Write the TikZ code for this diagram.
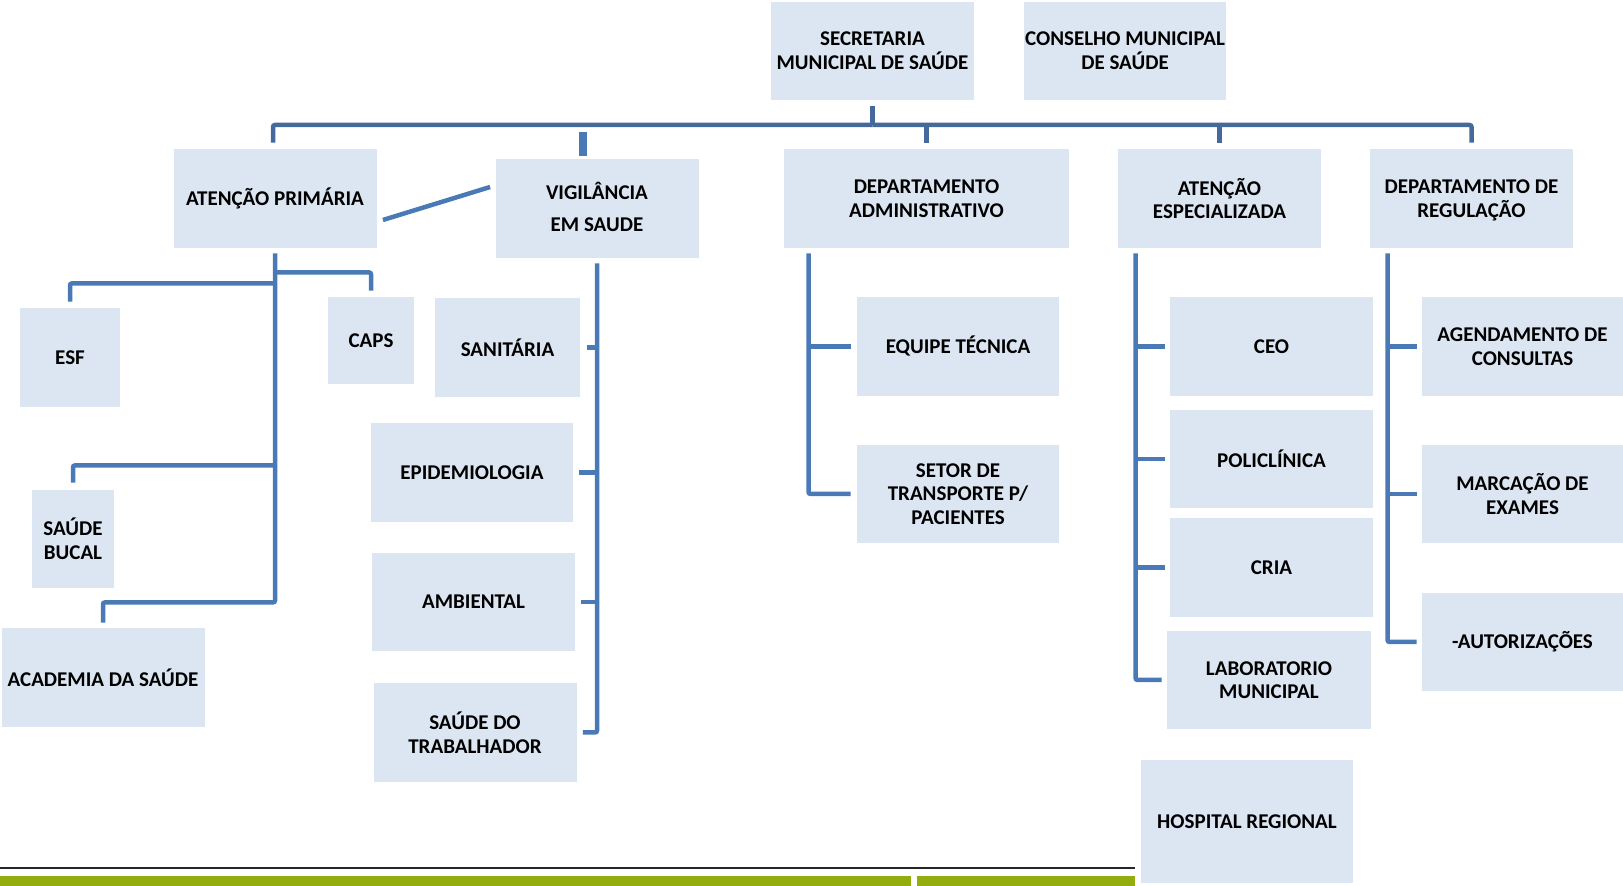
\documentclass[tikz,border=0pt]{standalone}
\usepackage{fontspec}
\setmainfont{Carlito}
\usetikzlibrary{calc}
\definecolor{boxfill}{HTML}{DCE6F2}
\definecolor{linec}{HTML}{4A7AB5}
\definecolor{barc}{HTML}{46699C}
\definecolor{greenbar}{HTML}{93AD0F}
\tikzset{
  box/.style 2 args={draw=none, fill=boxfill, inner sep=0pt, minimum width=#1*0.5pt, minimum height=#2*0.5pt, align=center, font=\bfseries\fontsize{10.5}{11.8}\selectfont},
  conn/.style={draw=linec, line width=2.25pt, rounded corners=1pt},
  barconn/.style={draw=barc, line width=2.25pt, rounded corners=1pt}
}
\begin{document}
\begin{tikzpicture}[x=0.5pt,y=-0.5pt]
\useasboundingbox (0,0) rectangle (1623,886);
% top level
\node[box={203}{98}] (sec) at (872.5,51) {SECRETARIA\\MUNICIPAL DE SAÚDE};
\node[box={202}{98}] (cons) at (1125,51) {CONSELHO MUNICIPAL\\DE SAÚDE};
% second level
\node[box={203}{99}] (ap) at (275,198.5) {ATENÇÃO PRIMÁRIA};
\node[box={203}{99}] (vig) at (597,208.5) {VIGIL\smash{Â}NCIA\\[4pt]EM SAUDE};
\node[box={285}{99}] (da) at (926.5,198.5) {DEPARTAMENTO\\ADMINISTRATIVO};
\node[box={203}{99}] (ae) at (1219.5,198.5) {ATENÇÃO\\ESPECIALIZADA};
\node[box={203}{99}] (dr) at (1471.5,198.5) {DEPARTAMENTO DE\\REGULA\smash{Ç}ÃO};
% atencao primaria children
\node[box={100}{99}] (esf) at (70,357.5) {ESF};
\node[box={86}{87}] (caps) at (371,340.5) {CAPS};
\node[box={82}{98}] (sb) at (73,539) {SAÚDE\\BUCAL};
\node[box={203}{99}] (acad) at (103,677.5) {ACADEMIA DA SAÚDE};
% vigilancia children
\node[box={145}{99}] (san) at (507.5,347.5) {SANITÁRIA};
\node[box={202}{99}] (epi) at (472,472.5) {EPIDEMIOLOGIA};
\node[box={203}{98}] (amb) at (473.5,602) {AMBIENTAL};
\node[box={203}{99}] (trab) at (475,732.5) {SAÚDE DO\\TRABALHADOR};
% departamento administrativo children
\node[box={202}{99}] (eq) at (958,346.5) {EQUIPE TÉCNICA};
\node[box={202}{98}] (setor) at (958,494) {SETOR DE\\TRANSPORTE P/\\PACIENTES};
% atencao especializada children
\node[box={203}{99}] (ceo) at (1271.5,346.5) {CEO};
\node[box={203}{98}] (poli) at (1271.5,459) {POLICLÍNICA};
\node[box={203}{99}] (cria) at (1271.5,567.5) {CRIA};
\node[box={204}{98}] (lab) at (1269,680) {LABORATORIO\\MUNICIPAL};
\node[box={212}{123}] (hosp) at (1247,821.5) {HOSPITAL REGIONAL};
% regulacao children
\node[box={201}{99}] (ag) at (1522.5,346.5) {AGENDAMENTO DE\\CONSULTAS};
\node[box={201}{98}] (marc) at (1522.5,494) {MARCAÇÃO DE\\EXAMES};
\node[box={201}{98}] (aut) at (1522.5,642) {-AUTORIZAÇÕES};
% main bar
\coordinate (bar) at (872.5,125);
\draw[barconn] ($(sec.south)+(0,6)$) -- (bar);
\draw[barconn] ($(ap.north)+(-2,-6)$) |- (bar);
\draw[barconn] ($(dr.north)+(0,-6)$) |- (bar);
\draw[barconn] ($(da.north)+(0,-6)$) -- (da.north |- bar);
\draw[barconn] ($(ae.north)+(0,-6)$) -- (ae.north |- bar);
\draw[draw=linec, line width=3.6pt] ($(vig.north)+(-14,-3)$) -- ($(vig.north)+(-14,-27)$);
% diagonal
\draw[conn, rounded corners=0pt] ($(ap.east)+(6,21.5)$) -- ($(vig.west)+(-5,-21.5)$);
% atencao primaria tree
\coordinate (apv) at ($(ap.south)+(0,5)$);
\draw[conn] (apv) -- ($(apv)+(0,349)$) -| ($(acad.north)+(0,-5)$);
\draw[conn] ($(esf.north)+(0,-6)$) |- ($(apv)+(0,30)$);
\draw[conn] ($(caps.north)+(0,-6)$) |- ($(apv)+(0,19)$);
\draw[conn] ($(sb.north)+(0,-7)$) |- ($(apv)+(0,212)$);
% vigilancia tree
\coordinate (vigv) at ($(vig.south)+(0,5)$);
\draw[conn] (vigv) |- ($(trab.east)+(6,0)$);
\draw[conn] ($(san.east)+(7,0)$) -- (san.east -| vigv);
\draw[conn] ($(epi.east)+(6,0)$) -- (epi.east -| vigv);
\draw[conn] ($(amb.east)+(6,0)$) -- (amb.east -| vigv);
% departamento administrativo tree
\coordinate (dav) at ($(da.south west)+(25,5)$);
\draw[conn] (dav) |- ($(setor.west)+(-6,0)$);
\draw[conn] ($(eq.west)+(-6,0)$) -- (eq.west -| dav);
% atencao especializada tree
\coordinate (aev) at ($(ae.south west)+(18,5)$);
\draw[conn] (aev) |- ($(lab.west)+(-5,0)$);
\draw[conn] ($(ceo.west)+(-5,0)$) -- (ceo.west -| aev);
\draw[conn] ($(poli.west)+(-5,0)$) -- (poli.west -| aev);
\draw[conn] ($(cria.west)+(-5,0)$) -- (cria.west -| aev);
% regulacao tree
\coordinate (drv) at ($(dr.south west)+(18,5)$);
\draw[conn] (drv) |- ($(aut.west)+(-5,0)$);
\draw[conn] ($(ag.west)+(-5,0)$) -- (ag.west -| drv);
\draw[conn] ($(marc.west)+(-5,0)$) -- (marc.west -| drv);
% footer lines
\draw[draw=black!85, line width=1.1pt] (0,868) -- (1135,868);
\fill[greenbar] (0,876) rectangle (911,886);
\fill[greenbar] (917,876) rectangle (1135,886);
\end{tikzpicture}
\end{document}
